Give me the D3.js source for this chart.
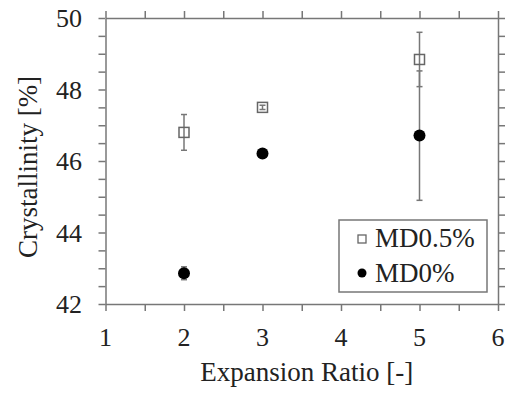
<!DOCTYPE html>
<html>
<head>
<meta charset="utf-8">
<script src="https://cdn.jsdelivr.net/npm/d3@7"></script>
<style>
  body { margin: 0; background: #fff; }
</style>
</head>
<body>
<div id="chart"></div>
<script>
// expansion ratio vs crystallinity
const ratios = [2, 3, 5];
const md05 = [46.8, 47.5, 48.84];
const md05Err = [0.5, 0.06, 0.76];
const md0 = [42.86, 46.21, 46.71];
const md0Err = [0.18, 0.05, 1.81];
const xTicks = [1, 2, 3, 4, 5, 6];
const yTicks = [42, 44, 46, 48, 50];
const legendNames = ['MD0.5%', 'MD0%'];

const width = 507, height = 397;
const axisColor = '#777';
const font = '"Liberation Serif", "Times New Roman", Times, serif';

const svg = d3.select('#chart').append('svg')
  .attr('width', width)
  .attr('height', height)
  .attr('font-family', font);

const x = d3.scaleLinear().domain([1, 6]).range([105.5, 498]);
const y = d3.scaleLinear().domain([42, 50]).range([304, 18]);

const xMinor = d3.range(1, 6.01, 0.5);
const yMinor = d3.range(42, 50.01, 0.5);

// axes on all four sides, ticks pointing out
function styleAxis(g) {
  g.selectAll('path').attr('stroke', axisColor).attr('stroke-width', 1.5);
  g.selectAll('line').attr('stroke', axisColor).attr('stroke-width', 1.5);
  g.selectAll('text').remove();
}
svg.append('g').attr('transform', `translate(0,${y(42)})`)
  .call(d3.axisBottom(x).tickValues(xMinor).tickSize(7).tickSizeOuter(0)).call(styleAxis);
svg.append('g').attr('transform', `translate(0,${y(50)})`)
  .call(d3.axisTop(x).tickValues(xMinor).tickSize(7).tickSizeOuter(0)).call(styleAxis);
svg.append('g').attr('transform', `translate(${x(1)},0)`)
  .call(d3.axisLeft(y).tickValues(yMinor).tickSize(7).tickSizeOuter(0)).call(styleAxis);
svg.append('g').attr('transform', `translate(${x(6)},0)`)
  .call(d3.axisRight(y).tickValues(yMinor).tickSize(7).tickSizeOuter(0)).call(styleAxis);

// tick labels
svg.selectAll('.xlab').data(xTicks).enter().append('text')
  .attr('font-family', font).attr('fill', '#222')
  .attr('x', d => x(d)).attr('y', 346)
  .attr('text-anchor', 'middle').attr('font-size', 26)
  .text(d => d);
svg.selectAll('.ylab').data(yTicks).enter().append('text')
  .attr('font-family', font).attr('fill', '#222')
  .attr('x', 82).attr('y', d => y(d) + 9)
  .attr('text-anchor', 'end').attr('font-size', 26)
  .text(d => d);

// axis titles
svg.append('text').attr('font-family', font).attr('fill', '#222')
  .attr('x', (x(1) + x(6)) / 2 + 5).attr('y', 381)
  .attr('text-anchor', 'middle').attr('font-size', 27)
  .text('Expansion Ratio [-]');
svg.append('text').attr('font-family', font).attr('fill', '#222')
  .attr('transform', 'translate(37,167) rotate(-90)')
  .attr('text-anchor', 'middle').attr('font-size', 27)
  .text('Crystallinity [%]');

// error bars
function errorBars(vals, errs) {
  const g = svg.append('g').attr('stroke', axisColor).attr('stroke-width', 1.5);
  ratios.forEach((r, i) => {
    g.append('line').attr('x1', x(r)).attr('x2', x(r))
      .attr('y1', y(vals[i] - errs[i])).attr('y2', y(vals[i] + errs[i]));
    [vals[i] - errs[i], vals[i] + errs[i]].forEach(v => {
      g.append('line').attr('x1', x(r) - 3).attr('x2', x(r) + 3)
        .attr('y1', y(v)).attr('y2', y(v));
    });
  });
}
errorBars(md0, md0Err);
errorBars(md05, md05Err);

// markers
svg.selectAll('.sq').data(ratios).enter().append('rect')
  .attr('x', d => x(d) - 5).attr('y', (d, i) => y(md05[i]) - 5)
  .attr('width', 10).attr('height', 10)
  .attr('fill', 'none').attr('stroke', '#666').attr('stroke-width', 1.5);
svg.selectAll('.dot').data(ratios).enter().append('circle')
  .attr('cx', d => x(d)).attr('cy', (d, i) => y(md0[i]))
  .attr('r', 6).attr('fill', '#000');

// legend
const lg = svg.append('g');
lg.append('rect').attr('x', 339).attr('y', 220).attr('width', 148).attr('height', 72)
  .attr('fill', '#fff').attr('stroke', axisColor).attr('stroke-width', 1.5);
lg.append('rect').attr('x', 358).attr('y', 235).attr('width', 8).attr('height', 8)
  .attr('fill', 'none').attr('stroke', '#666').attr('stroke-width', 1.3);
lg.append('circle').attr('cx', 362).attr('cy', 273).attr('r', 4.5).attr('fill', '#000');
lg.selectAll('.lt').data(legendNames).enter().append('text')
  .attr('font-family', font).attr('fill', '#222')
  .attr('x', 375).attr('y', (d, i) => 247 + i * 35)
  .attr('font-size', 27)
  .text(d => d);
</script>
</body>
</html>
